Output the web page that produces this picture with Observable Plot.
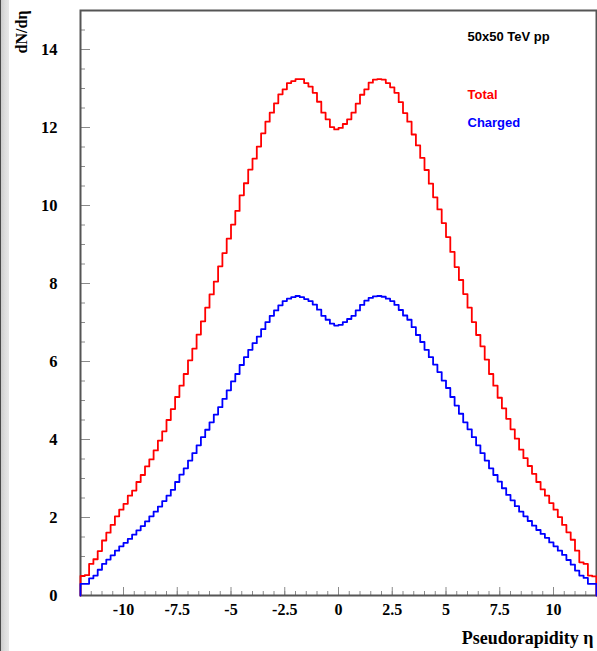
<!DOCTYPE html>
<html>
<head>
<meta charset="utf-8">
<script src="https://cdn.jsdelivr.net/npm/d3@7"></script>
<script src="https://cdn.jsdelivr.net/npm/@observablehq/plot@0.6"></script>
<style>
  html, body { margin: 0; padding: 0; background: #ffffff; }
  #wrap { position: relative; width: 597px; height: 651px; overflow: hidden; }
  #stripe { position: absolute; left: 0; top: 0; width: 9px; height: 651px;
    background: linear-gradient(to right, #4a4a4a 0px, #4a4a4a 1.5px, #cfcfcf 1.5px, #dedede 5px, #e8e8e8 9px); }
</style>
</head>
<body>
<div id="wrap"><div id="chart"></div><div id="stripe"></div></div>
<script>
// ---- data (histogram, 120 bins of width 0.2 from eta = -12 to 12) ----
const etaMin = -12;
const etaMax = 12;
const binWidth = 0.2;

const totalValues = [
  0.50, 0.52, 0.81, 0.93, 1.14, 1.41, 1.61, 1.81, 2.03, 2.20,
  2.35, 2.56, 2.69, 2.91, 3.09, 3.31, 3.49, 3.72, 3.97, 4.21,
  4.50, 4.78, 5.09, 5.38, 5.68, 6.03, 6.33, 6.69, 7.03, 7.38,
  7.72, 8.05, 8.44, 8.78, 9.15, 9.51, 9.86, 10.26, 10.57, 10.92,
  11.20, 11.51, 11.85, 12.15, 12.38, 12.62, 12.85, 12.98, 13.14, 13.19,
  13.24, 13.24, 13.14, 13.05, 12.89, 12.66, 12.38, 12.21, 12.01, 11.95,
  11.99, 12.09, 12.21, 12.38, 12.61, 12.84, 12.98, 13.15, 13.23, 13.24,
  13.23, 13.14, 13.03, 12.89, 12.65, 12.37, 12.15, 11.82, 11.54, 11.22,
  10.91, 10.56, 10.21, 9.90, 9.55, 9.19, 8.81, 8.42, 8.09, 7.73,
  7.38, 7.01, 6.68, 6.39, 6.05, 5.68, 5.38, 5.07, 4.80, 4.53,
  4.26, 4.02, 3.74, 3.52, 3.32, 3.12, 2.91, 2.72, 2.56, 2.37,
  2.20, 2.01, 1.81, 1.62, 1.43, 1.15, 0.85, 0.81, 0.51, 0.49
];

const chargedValues = [
  0.30, 0.30, 0.44, 0.51, 0.66, 0.81, 0.92, 1.03, 1.15, 1.26,
  1.35, 1.45, 1.56, 1.67, 1.78, 1.90, 2.03, 2.15, 2.28, 2.42,
  2.56, 2.71, 2.91, 3.10, 3.26, 3.46, 3.65, 3.85, 4.06, 4.25,
  4.44, 4.64, 4.83, 5.04, 5.26, 5.49, 5.68, 5.91, 6.11, 6.30,
  6.47, 6.64, 6.83, 7.01, 7.17, 7.31, 7.44, 7.55, 7.61, 7.65,
  7.68, 7.65, 7.60, 7.55, 7.46, 7.33, 7.17, 7.07, 6.97, 6.92,
  6.94, 7.01, 7.09, 7.17, 7.31, 7.45, 7.56, 7.63, 7.67, 7.68,
  7.66, 7.61, 7.55, 7.45, 7.32, 7.18, 7.07, 6.88, 6.68, 6.50,
  6.30, 6.11, 5.92, 5.73, 5.51, 5.32, 5.09, 4.87, 4.66, 4.44,
  4.26, 4.06, 3.85, 3.65, 3.46, 3.26, 3.09, 2.92, 2.75, 2.58,
  2.44, 2.29, 2.15, 2.03, 1.91, 1.79, 1.68, 1.58, 1.48, 1.36,
  1.26, 1.15, 1.04, 0.91, 0.79, 0.64, 0.51, 0.45, 0.30, 0.30
];

const xMajorTicks = [-10, -7.5, -5, -2.5, 0, 2.5, 5, 7.5, 10];
const xTickLabels = ["-10", "-7.5", "-5", "-2.5", "0", "2.5", "5", "7.5", "10"];
const yMajorTicks = [0, 2, 4, 6, 8, 10, 12, 14];
const yTickLabels = ["0", "2", "4", "6", "8", "10", "12", "14"];
const xMinorStep = 0.5;
const yMinorStep = 0.5;

const seriesNames = ["Total", "Charged"];
const seriesColors = ["#ff0000", "#0000ff"];
const infoText = "50x50 TeV pp";
const xTitle = "Pseudorapidity \u03b7";
const yTitle = "dN/d\u03b7";

// ---- layout ----
const W = 597, H = 651, ML = 80, MR = 1, MT = 10, MB = 56;
const innerW = W - ML - MR, innerH = H - MT - MB;
const serif = "'Liberation Serif', 'Times New Roman', serif";
const sans = "'Liberation Sans', Arial, Helvetica, sans-serif";

// histogram outline (ROOT style): start and end on the axis
function outline(values) {
  const pts = [{x: etaMin, y: 0}];
  values.forEach((v, i) => pts.push({x: etaMin + i * binWidth, y: v}));
  pts.push({x: etaMax, y: values[values.length - 1]});
  pts.push({x: etaMax, y: 0});
  return pts;
}

const xMinor = d3.range(etaMin, etaMax + 1e-9, xMinorStep);
const yMinor = d3.range(0, 15 + 1e-9, yMinorStep);

const chart = Plot.plot({
  width: W, height: H,
  marginLeft: ML, marginRight: MR, marginTop: MT, marginBottom: MB,
  style: {background: "transparent", overflow: "visible"},
  x: {domain: [etaMin, etaMax]},
  y: {domain: [0, 15]},
  marks: [
    // minor/major ticks drawn inward
    Plot.tickX(xMinor, {x: d => d, stroke: "#8a8a8a", strokeWidth: 1, insetTop: innerH - 4}),
    Plot.tickX(xMajorTicks, {x: d => d, stroke: "#8a8a8a", strokeWidth: 1, insetTop: innerH - 8}),
    Plot.tickY(yMinor, {y: d => d, stroke: "#8a8a8a", strokeWidth: 1, insetRight: innerW - 5}),
    Plot.tickY(yMajorTicks, {y: d => d, stroke: "#8a8a8a", strokeWidth: 1, insetRight: innerW - 10}),
    Plot.frame({stroke: "#555555", strokeWidth: 2}),
    Plot.axisX({ticks: xMajorTicks, tickFormat: (d) => xTickLabels[xMajorTicks.indexOf(d)],
      tickSize: 0, tickPadding: 8, label: null,
      fontFamily: serif, fontSize: 16, fontWeight: "bold", fill: "#000"}),
    Plot.axisY({ticks: yMajorTicks, tickFormat: (d) => yTickLabels[yMajorTicks.indexOf(d)],
      tickSize: 0, tickPadding: 23, label: null,
      fontFamily: serif, fontSize: 16.5, fontWeight: "bold", fill: "#000"}),
    Plot.line(outline(totalValues), {x: "x", y: "y", curve: "step-after",
      stroke: seriesColors[0], strokeWidth: 1.8}),
    Plot.line(outline(chargedValues), {x: "x", y: "y", curve: "step-after",
      stroke: seriesColors[1], strokeWidth: 1.8}),
    // titles
    Plot.text([yTitle], {text: d => d, frameAnchor: "top-left", dx: -54, dy: 0, rotate: -90,
      textAnchor: "end", lineAnchor: "bottom", fontFamily: serif, fontSize: 16, fontWeight: "bold", fill: "#000"}),
    Plot.text([xTitle], {text: d => d, frameAnchor: "bottom-right", dx: -3, dy: 48,
      textAnchor: "end", lineAnchor: "bottom", fontFamily: serif, fontSize: 18, fontWeight: "bold", fill: "#000"}),
    // legend / info
    Plot.text([infoText], {text: d => d, frameAnchor: "top-left", dx: 387, dy: 30,
      textAnchor: "start", lineAnchor: "bottom", fontFamily: sans, fontSize: 13, fontWeight: "bold", fill: "#000"}),
    Plot.text([seriesNames[0]], {text: d => d, frameAnchor: "top-left", dx: 387, dy: 88,
      textAnchor: "start", lineAnchor: "bottom", fontFamily: sans, fontSize: 13, fontWeight: "bold", fill: seriesColors[0]}),
    Plot.text([seriesNames[1]], {text: d => d, frameAnchor: "top-left", dx: 387, dy: 116,
      textAnchor: "start", lineAnchor: "bottom", fontFamily: sans, fontSize: 13, fontWeight: "bold", fill: seriesColors[1]})
  ]
});
document.getElementById("chart").appendChild(chart);
</script>
</body>
</html>
